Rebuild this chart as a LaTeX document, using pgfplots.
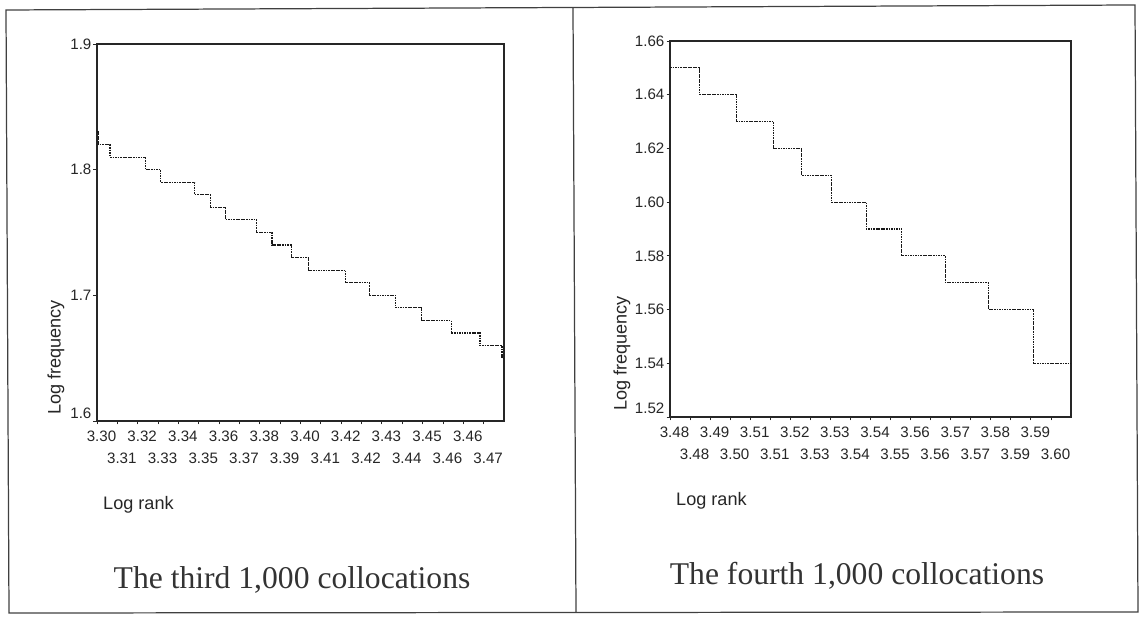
\documentclass[border=0pt]{standalone}
\usepackage{fontspec}
\setmainfont{Liberation Sans}
\newfontfamily\capfont{Liberation Serif}
\usepackage{pgfplots}
\pgfplotsset{compat=1.18}

% log rank (category index 0..1000) vs log frequency
\pgfplotstableread{
idx  lf
0    1.83
3    1.82
32   1.81
119  1.80
157  1.79
240  1.78
278  1.77
316  1.76
392  1.75
430  1.74
477  1.73
520  1.72
611  1.71
669  1.70
734  1.69
798  1.68
870  1.67
941  1.66
995  1.65
1000 1.65
}\thirdk

\pgfplotstableread{
idx  lf
0    1.65
74   1.64
165  1.63
259  1.62
328  1.61
402  1.60
490  1.59
578  1.58
687  1.57
794  1.56
907  1.54
1000 1.54
}\fourthk

\pgfplotsset{
  spss/.style={
    scale only axis,
    xmin=0, xmax=1000,
    axis line style={black!85, line width=0.6pt},
    tick style={black!85, line width=0.5pt},
    tick align=outside,
    major tick length=0.07cm,
    tick pos=left,
    /pgf/number format/assume math mode=true,
    tick label style={font=\fontsize{8.6}{9}\selectfont, text=black!85},
    yticklabel style={inner sep=1pt},
    xticklabel style={xshift=0.09cm},
    xtick={0,100,...,900},
    extra x ticks={50,150,...,950},
    extra x tick style={xticklabel style={yshift=-0.44cm}},
    label style={font=\fontsize{10.3}{12}\selectfont, text=black!85},
    xlabel={Log rank},
    xlabel style={at={(axis description cs:0,0)}, anchor=west, yshift=-1.68cm},
    ylabel={Log frequency},
  },
  step/.style={const plot, black!90, line width=0.65pt, dash pattern=on 1pt off 0.45pt},
}

\begin{document}
\begin{tikzpicture}
\useasboundingbox (0,0) rectangle (22.8,12.36);
\draw[line width=0.7pt, black!75] (0.12,12.16) -- (22.70,12.26) -- (22.76,0.12) -- (0.18,0.10) -- cycle;
\draw[line width=0.7pt, black!75] (11.46,12.20) -- (11.52,0.10);

\begin{axis}[spss,
  at={(1.94cm,3.94cm)}, anchor=south west,
  width=8.14cm, height=7.54cm,
  ymin=1.6, ymax=1.9,
  ytick={1.7,1.8,1.9}, yticklabels={1.7,1.8,1.9},
  extra y ticks={1.6}, extra y tick labels={1.6},
  extra y tick style={yticklabel style={yshift=0.16cm}},
  xticklabels={3.30,3.32,3.34,3.36,3.38,3.40,3.42,3.43,3.45,3.46},
  extra x tick labels={3.31,3.33,3.35,3.37,3.39,3.41,3.42,3.44,3.46,3.47},
  ylabel style={at={(axis description cs:-0.101,0)}, anchor=west},
]
\addplot[step] table[x=idx, y=lf] {\thirdk};
\end{axis}

\begin{axis}[spss,
  at={(13.40cm,4.02cm)}, anchor=south west,
  width=8.02cm, height=7.52cm,
  ymin=1.52, ymax=1.66,
  ytick={1.54,1.56,1.58,1.60,1.62,1.64,1.66},
  yticklabels={1.54,1.56,1.58,1.60,1.62,1.64,1.66},
  extra y ticks={1.52}, extra y tick labels={1.52},
  extra y tick style={yticklabel style={yshift=0.18cm}},
  xticklabels={3.48,3.49,3.51,3.52,3.53,3.54,3.56,3.57,3.58,3.59},
  extra x tick labels={3.48,3.50,3.51,3.53,3.54,3.55,3.56,3.57,3.59,3.60},
  ylabel style={at={(axis description cs:-0.12,0)}, anchor=west},
]
\addplot[step] table[x=idx, y=lf] {\fourthk};
\end{axis}

\node[font=\capfont\fontsize{18}{20}\selectfont, text=black!80, anchor=base] at (5.84,0.58) {The third 1,000 collocations};
\node[font=\capfont\fontsize{18}{20}\selectfont, text=black!80, anchor=base] at (17.14,0.66) {The fourth 1,000 collocations};
\end{tikzpicture}
\end{document}
